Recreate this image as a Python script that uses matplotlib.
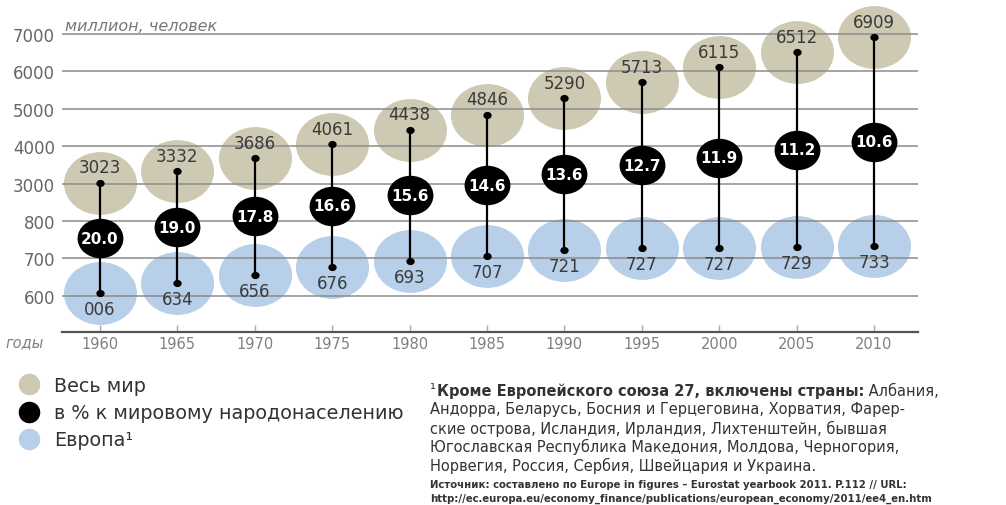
import numpy as np
import matplotlib
matplotlib.use("Agg")
import matplotlib.pyplot as plt
from matplotlib.path import Path
from matplotlib.transforms import Affine2D
from matplotlib.lines import Line2D

# ---------------- data ----------------
years = [1960, 1965, 1970, 1975, 1980, 1985, 1990, 1995, 2000, 2005, 2010]
world = [3023, 3332, 3686, 4061, 4438, 4846, 5290, 5713, 6115, 6512, 6909]
europe = [606, 634, 656, 676, 693, 707, 721, 727, 727, 729, 733]
europe_labels = ["006", "634", "656", "676", "693", "707", "721", "727", "727", "729", "733"]
share = ["20.0", "19.0", "17.8", "16.6", "15.6", "14.6", "13.6", "12.7", "11.9", "11.2", "10.6"]
yticks = [600, 700, 800, 3000, 4000, 5000, 6000, 7000]
legend_labels = ["Весь мир", "в % к мировому народонаселению", "Европа¹"]

plt.rcParams['font.family'] = ['DejaVu Sans']

W, H = 1006, 506
BEIGE = "#cec9b2"
BLUE = "#b7cfe8"
TXT = "#3a3a3a"

def fwd(v):
    v = np.asarray(v, float)
    return np.where(v <= 800, (v - 600) / 100.0,
                    np.where(v < 3000, 2 + (v - 800) / 2200.0, 3 + (v - 3000) / 1000.0))

def inv(u):
    u = np.asarray(u, float)
    return np.where(u <= 2, 600 + u * 100.0,
                    np.where(u < 3, 800 + (u - 2) * 2200.0, 3000 + (u - 3) * 1000.0))

def fx(x):
    return x / W

def fy(y):
    return 1 - y / H

fig = plt.figure(figsize=(W / 100, H / 100), dpi=100)
ax = fig.add_axes([fx(62), fy(333), (918 - 62) / W, (333 - 20) / H])
ax.set_yscale('function', functions=(fwd, inv))
ax.set_ylim(503, 7400)
ax.set_xlim(1957.55, 2012.84)

ell = Path.unit_circle().transformed(Affine2D().scale(1, 0.86))

# horizontal grid lines
for t in yticks:
    ax.axhline(t, color="#8c8c8c", lw=1.1, zorder=1.5)

mid = inv((fwd(world) + fwd(europe)) / 2)

ax.scatter(years, world, s=2766, marker=ell, color=BEIGE, lw=0, zorder=1, clip_on=False)
ax.scatter(years, europe, s=2766, marker=ell, color=BLUE, lw=0, zorder=1, clip_on=False)
ax.vlines(years, europe, world, color="black", lw=1.6, zorder=2)
ax.scatter(years, mid, s=1090, marker=ell, color="black", lw=0, zorder=3, clip_on=False)
ax.scatter(years, world, s=36, marker=ell, color="black", lw=0, zorder=4, clip_on=False)
ax.scatter(years, europe, s=36, marker=ell, color="black", lw=0, zorder=4, clip_on=False)

for x, w, e, el, m, sh in zip(years, world, europe, europe_labels, mid, share):
    ax.annotate(str(w), (x, w), xytext=(0, 11), textcoords="offset points",
                ha="center", va="center", fontsize=12, color=TXT, zorder=5)
    ax.annotate(el, (x, e), xytext=(0, -11.5), textcoords="offset points",
                ha="center", va="center", fontsize=12, color=TXT, zorder=5)
    ax.annotate(sh, (x, m), xytext=(0, 0), textcoords="offset points",
                ha="center", va="center", fontsize=11, color="white",
                fontweight="bold", zorder=5)

ax.set_yticks(yticks)
ax.set_yticklabels([str(t) for t in yticks])
ax.set_xticks(years)
ax.set_xticklabels([str(y) for y in years])
ax.tick_params(axis="y", length=0, pad=5, labelsize=12, labelcolor="#666666")
ax.tick_params(axis="x", direction="in", length=5, width=1, color="#aaaaaa",
               pad=3, labelsize=10.5, labelcolor="#808080")
for s in ["left", "right", "top"]:
    ax.spines[s].set_visible(False)
ax.spines["bottom"].set_color("#555555")
ax.spines["bottom"].set_linewidth(1.6)
ax.patch.set_alpha(0)

fig.text(fx(65), fy(34), "миллион, человек", fontsize=11.5, style="italic",
         color="#777777", ha="left", va="bottom")
fig.text(fx(5), fy(343), "годы", fontsize=10.5, style="italic",
         color="#808080", ha="left", va="center")

# legend
handles = [Line2D([], [], marker="o", ls="none", ms=14.5, color=c, mec=c)
           for c in [BEIGE, "black", BLUE]]
fig.legend(handles, legend_labels, loc="upper left", bbox_to_anchor=(fx(19), fy(377)),
           bbox_transform=fig.transFigure, frameon=False, fontsize=13.8,
           labelcolor="#333333", handlelength=1.0, handletextpad=0.85,
           labelspacing=0.43, borderpad=0, borderaxespad=0)

# footnote
t_b = fig.text(fx(437), fy(399), "Кроме Европейского союза 27, включены страны:",
               fontsize=10.5, fontweight="bold", color="#333333", ha="left", va="bottom")
plt.annotate("¹", xy=(0, 1), xycoords=t_b, xytext=(-1, 1), textcoords="offset points",
             ha="right", va="top", fontsize=10.5, color="#333333")
plt.annotate(" Албания,", xy=(1, 0), xycoords=t_b, ha="left", va="bottom",
             fontsize=10.5, color="#333333")
lines = [
    "Андорра, Беларусь, Босния и Герцеговина, Хорватия, Фарер-",
    "ские острова, Исландия, Ирландия, Лихтенштейн, бывшая",
    "Югославская Республика Македония, Молдова, Черногория,",
    "Норвегия, Россия, Сербия, Швейцария и Украина.",
]
for i, ln in enumerate(lines):
    fig.text(fx(430), fy(410 + 18.7 * i), ln, fontsize=10.5, color="#333333",
             ha="left", va="center")
fig.text(fx(430), fy(485), "Источник: составлено по Europe in figures – Eurostat yearbook 2011. P.112 // URL:",
         fontsize=7.3, fontweight="bold", color="#333333", ha="left", va="center")
fig.text(fx(430), fy(499), "http://ec.europa.eu/economy_finance/publications/european_economy/2011/ee4_en.htm",
         fontsize=7.3, fontweight="bold", color="#333333", ha="left", va="center")

fig.savefig("out.png", dpi=100)
